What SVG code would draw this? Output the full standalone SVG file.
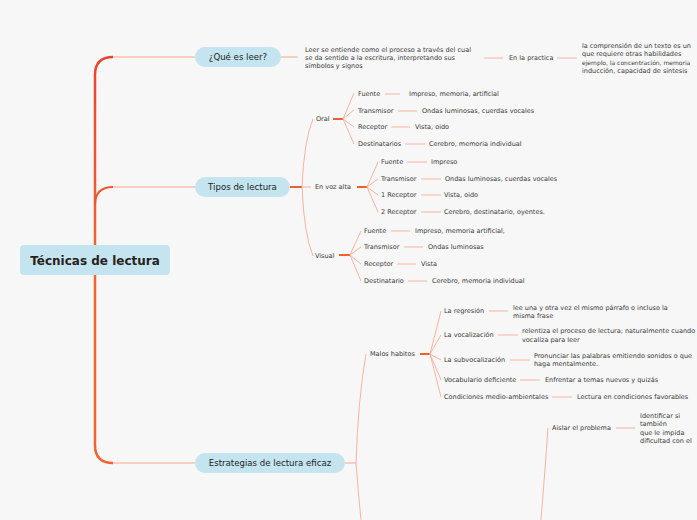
<svg xmlns="http://www.w3.org/2000/svg" width="697" height="520" viewBox="0 0 697 520">
<defs>
<linearGradient id="trunk" x1="0" y1="0" x2="0" y2="1">
<stop offset="0" stop-color="#e8452f"/>
<stop offset="1" stop-color="#f2642f"/>
</linearGradient>
</defs>
<style>
.bg{fill:#f7f7f7}
.node{fill:#c4e5f0}
.t{font-family:"DejaVu Sans",Verdana,sans-serif;font-size:6.5px;fill:#3a3a3a}
.nt{font-family:"DejaVu Sans",Verdana,sans-serif;font-size:8.6px;fill:#222}
.ct{font-family:"DejaVu Sans",Verdana,sans-serif;font-size:12px;font-weight:bold;fill:#2a1e1a}
.l{stroke:#f6b4a0;stroke-width:1;fill:none}
.lb{stroke:#f6c0b0;stroke-width:1.5;fill:none}
.d{stroke:#f0602e;stroke-width:2;fill:none}
</style>
<rect class="bg" width="697" height="520"/>
<g id="connectors">
<path d="M95,255 V75 Q95,57 113,57" stroke="url(#trunk)" stroke-width="2.5" fill="none"/>
<path d="M95,270 V445 Q95,463 113,463" stroke="#f2642f" stroke-width="2.5" fill="none"/>
<path d="M95,205 Q95,187 113,187" stroke="#f0552c" stroke-width="2" fill="none"/>
<path class="lb" d="M113,57 H195"/>
<path class="lb" d="M113,187 H195"/>
<path class="lb" d="M113,463 H195"/>
<path class="lb" d="M281,57 H298"/>
<path class="l" d="M484,58 H503"/>
<path class="l" d="M557,58 H577"/>
<path class="d" d="M290,187 H302"/>
<path class="l" d="M302,187 Q304,140 313,119"/>
<path class="l" d="M302,187 H311"/>
<path class="l" d="M302,187 Q304,234 313,256"/>
<path class="d" d="M333,119 H343"/>
<path class="l" d="M343,119 L354,93 M343,119 L354,110 M343,119 L354,127 M343,119 L354,144"/>
<path class="l" d="M385,94 H400 M398,111 H417 M391,127 H410 M405,144 H425"/>
<path class="d" d="M357,187 H367"/>
<path class="l" d="M367,187 L378,162 M367,187 L378,179 M367,187 L378,195 M367,187 L378,212"/>
<path class="l" d="M407,162 H427 M421,179 H441 M421,195 H441 M421,212 H441"/>
<path class="d" d="M339,255 H350"/>
<path class="l" d="M350,255 L361,231 M350,255 L361,247 M350,255 L361,264 M350,255 L361,281"/>
<path class="l" d="M391,231 H410 M404,247 H423 M397,264 H416 M408,281 H427"/>
<path class="lb" d="M345,463 H356"/>
<path class="l" d="M356,463 Q358,400 366,354"/>
<path class="l" d="M356,463 Q358,490 361,520"/>
<path class="d" d="M420,354 H430"/>
<path class="l" d="M430,354 L441,311 M430,354 L441,335 M430,354 L441,360 M430,354 L441,380 M430,354 L441,397"/>
<path class="l" d="M489,311 H508 M498,335 H518 M510,360 H530 M520,380 H540 M552,397 H572"/>
<path class="l" d="M548,428 Q545,470 541,520"/>
<path class="l" d="M616,428 H635"/>
</g>
<g id="n-central">
<rect class="node" x="20" y="245" width="150" height="30" rx="4"/>
<text class="ct" x="95" y="265" text-anchor="middle">Técnicas de lectura</text>
</g>
<g id="n-que">
<rect class="node" x="195" y="47" width="86" height="20" rx="10"/>
<text class="nt" x="238" y="60" text-anchor="middle">¿Qué es leer?</text>
</g>
<g id="n-tipos">
<rect class="node" x="195" y="177" width="95" height="20" rx="10"/>
<text class="nt" x="242.5" y="190" text-anchor="middle">Tipos de lectura</text>
</g>
<g id="n-estrategias">
<rect class="node" x="195" y="453" width="150" height="20" rx="10"/>
<text class="nt" x="270" y="466" text-anchor="middle">Estrategias de lectura eficaz</text>
</g>
<g id="n-leer">
<text class="t" x="305" y="52">Leer se entiende como el proceso a través del cual</text>
<text class="t" x="305" y="60">se da sentido a la escritura, interpretando sus</text>
<text class="t" x="305" y="68">símbolos y signos</text>
</g>
<g id="n-practica"><text class="t" x="509" y="60">En la practica</text></g>
<g id="n-comprension">
<text class="t" x="582" y="48">la comprensión de un texto es un</text>
<text class="t" x="582" y="56">que requiere otras habilidades</text>
<text class="t" x="582" y="65" style="font-size:6px">ejemplo, la concentración, memoria</text>
<text class="t" x="582" y="73">inducción, capacidad de síntesis</text>
</g>
<g id="n-oral"><text class="t" x="316" y="121">Oral</text></g>
<g id="n-oral-children">
<text class="t" x="358" y="96">Fuente</text><text class="t" x="409" y="96">Impreso, memoria, artificial</text>
<text class="t" x="358" y="113">Transmisor</text><text class="t" x="422" y="113">Ondas luminosas, cuerdas vocales</text>
<text class="t" x="358" y="129">Receptor</text><text class="t" x="415" y="129">Vista, oido</text>
<text class="t" x="358" y="146">Destinatarios</text><text class="t" x="429" y="146">Cerebro, memoria individual</text>
</g>
<g id="n-voz"><text class="t" x="315" y="189">En voz alta</text></g>
<g id="n-voz-children">
<text class="t" x="381" y="164">Fuente</text><text class="t" x="431" y="164">Impreso</text>
<text class="t" x="381" y="181">Transmisor</text><text class="t" x="445" y="181">Ondas luminosas, cuerdas vocales</text>
<text class="t" x="381" y="197">1 Receptor</text><text class="t" x="444" y="197">Vista, oido</text>
<text class="t" x="381" y="214">2 Receptor</text><text class="t" x="444" y="214">Cerebro, destinatario, oyentes.</text>
</g>
<g id="n-visual"><text class="t" x="315" y="258">Visual</text></g>
<g id="n-visual-children">
<text class="t" x="364" y="233">Fuente</text><text class="t" x="415" y="233">Impreso, memoria artificial,</text>
<text class="t" x="364" y="249">Transmisor</text><text class="t" x="428" y="249">Ondas luminosas</text>
<text class="t" x="364" y="266">Receptor</text><text class="t" x="421" y="266">Vista</text>
<text class="t" x="364" y="283">Destinatario</text><text class="t" x="432" y="283">Cerebro, memoria individual</text>
</g>
<g id="n-malos"><text class="t" x="370" y="356">Malos habitos</text></g>
<g id="n-malos-children">
<text class="t" x="444" y="313">La regresión</text>
<text class="t" x="513" y="310">lee una y otra vez el mismo párrafo o incluso la</text>
<text class="t" x="513" y="318">misma frase</text>
<text class="t" x="444" y="337">La vocalización</text>
<text class="t" x="522" y="333">relentiza el proceso de lectura; naturalmente cuando</text>
<text class="t" x="522" y="342">vocaliza para leer</text>
<text class="t" x="444" y="362">La subvocalización</text>
<text class="t" x="534" y="358">Pronunciar las palabras emitiendo sonidos o que</text>
<text class="t" x="534" y="366">haga mentalmente.</text>
<text class="t" x="444" y="382">Vocabulario deficiente</text>
<text class="t" x="545" y="382">Enfrentar a temas nuevos y quizás</text>
<text class="t" x="444" y="399">Condiciones medio-ambientales</text>
<text class="t" x="577" y="399">Lectura en condiciones favorables</text>
</g>
<g id="n-aislar">
<text class="t" x="552" y="430">Aislar el problema</text>
<text class="t" x="640" y="418">Identificar si</text>
<text class="t" x="640" y="426">también</text>
<text class="t" x="640" y="435">que le impida</text>
<text class="t" x="640" y="443">dificultad con el</text>
</g>
</svg>
